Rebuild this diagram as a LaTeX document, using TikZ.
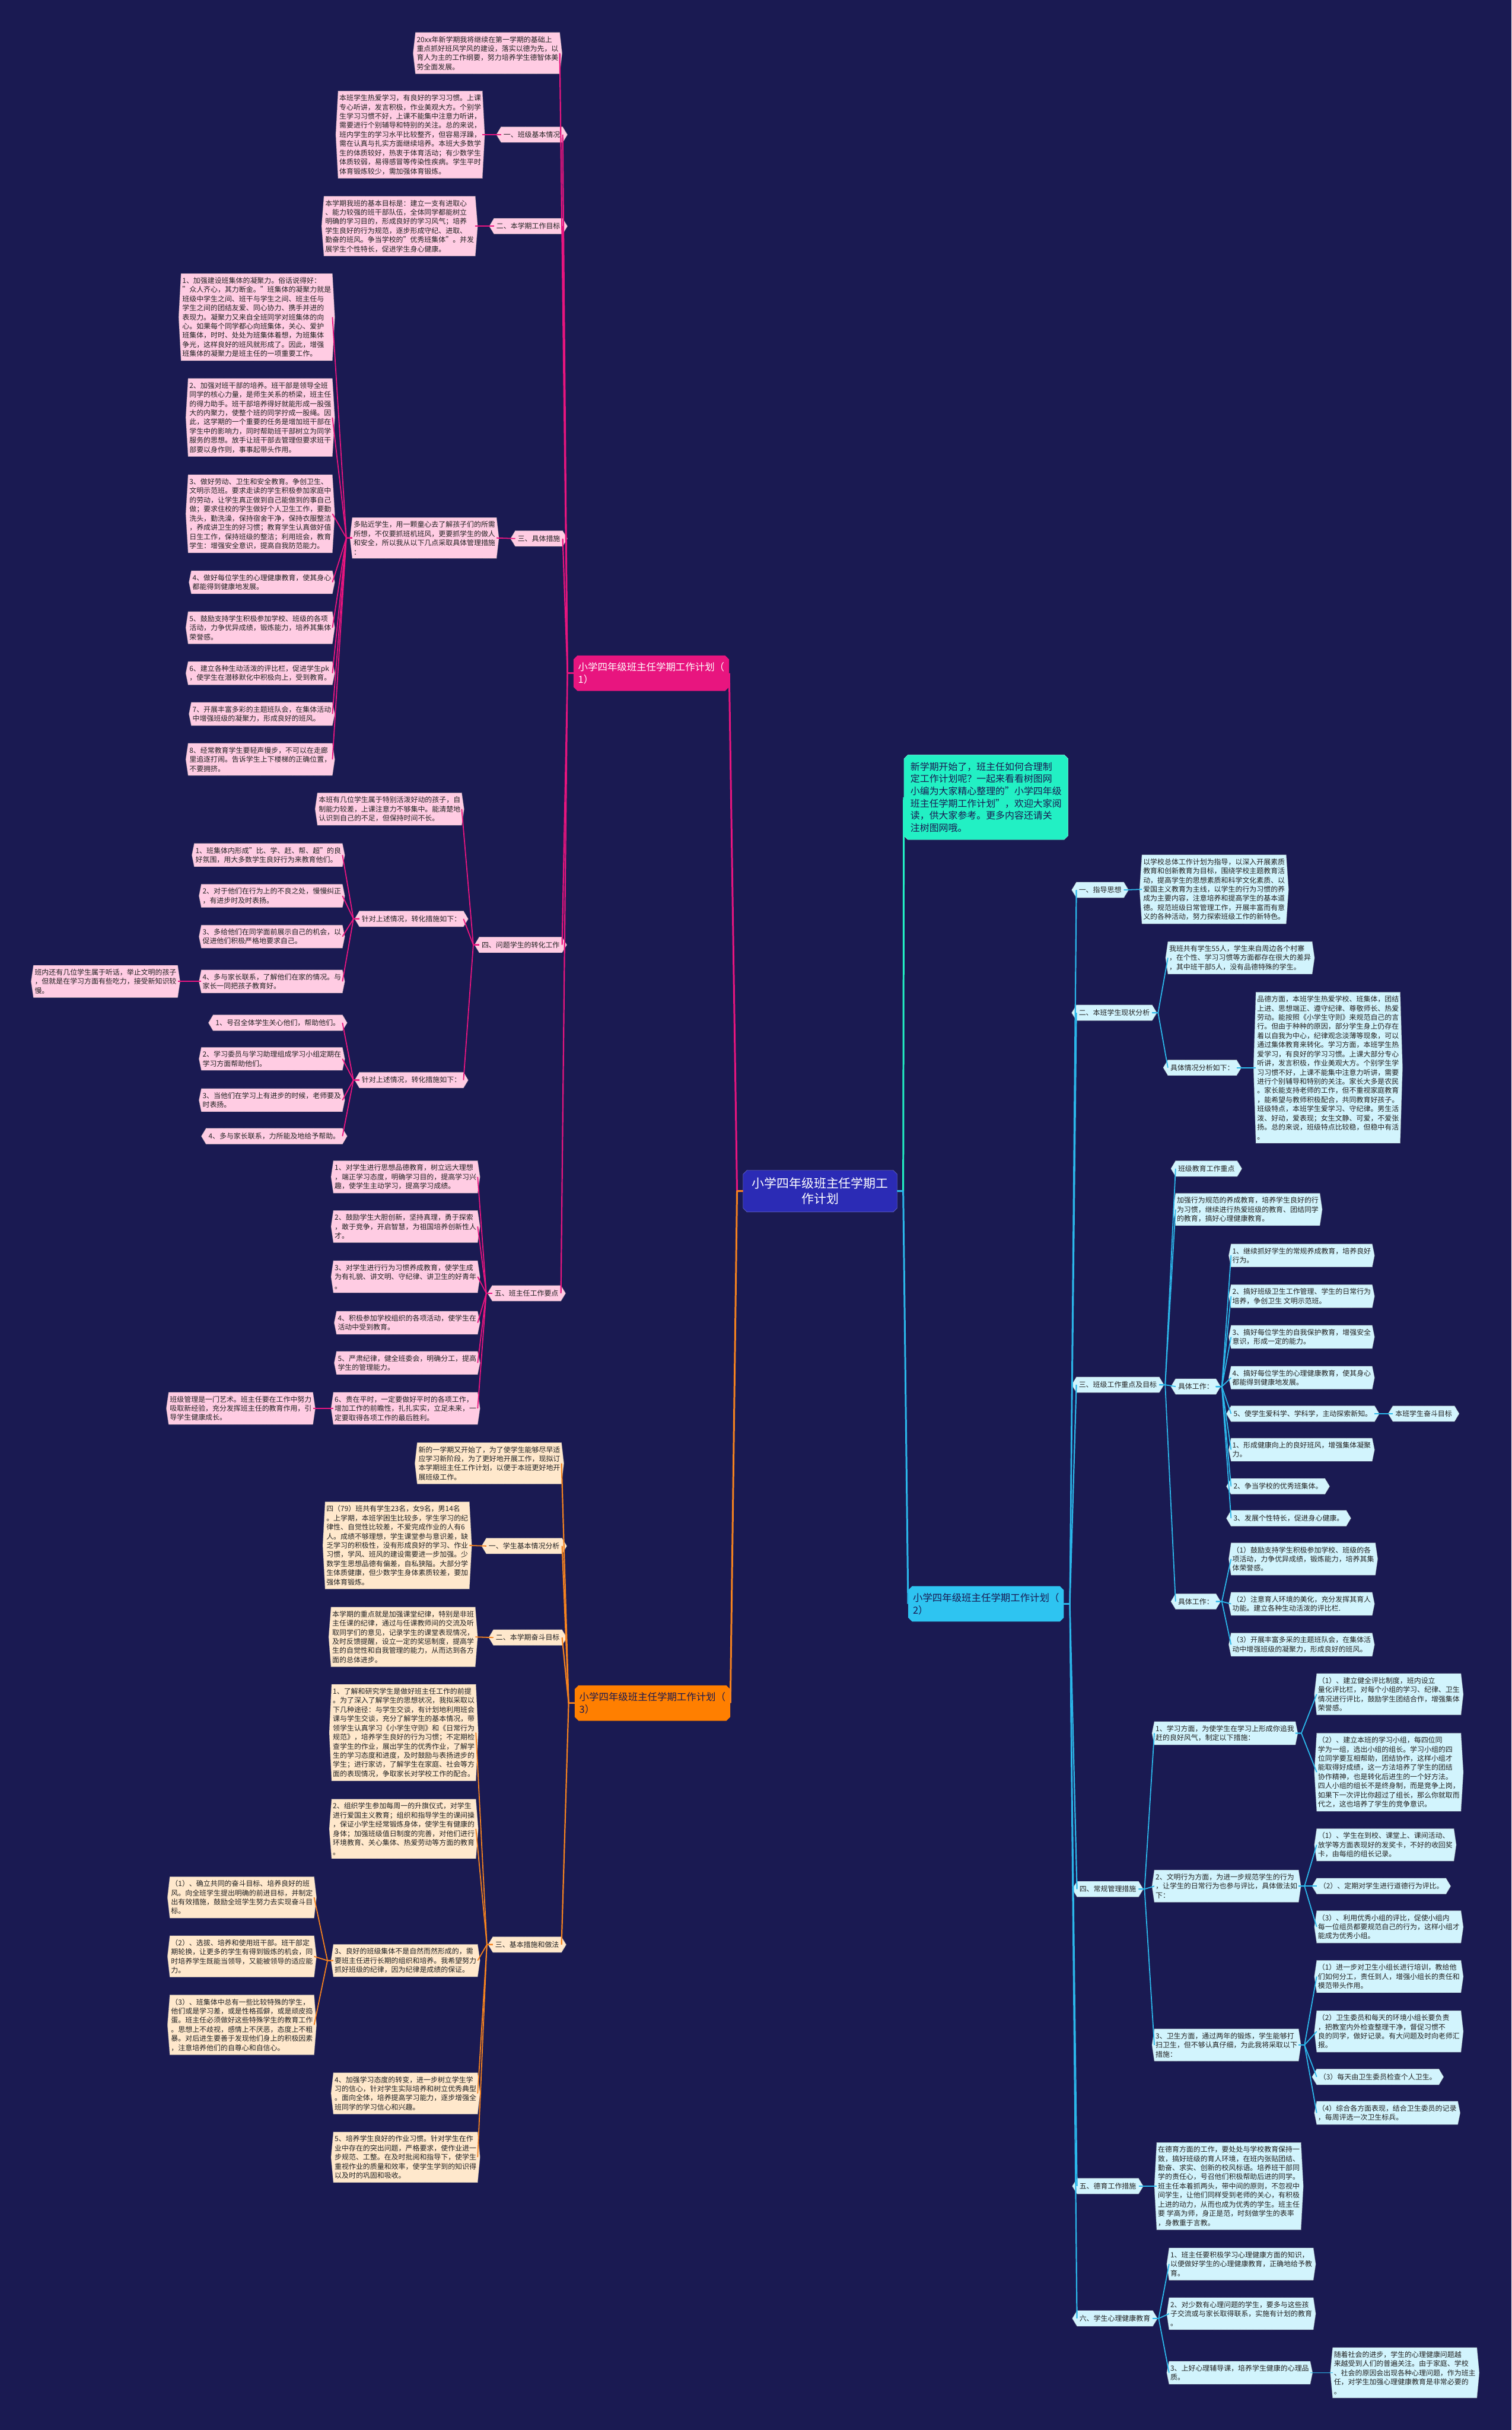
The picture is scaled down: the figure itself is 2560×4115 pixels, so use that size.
\documentclass[tikz,border=0pt]{standalone}
\usepackage{fontspec}
\setmainfont{Noto Sans CJK SC}
\usetikzlibrary{backgrounds, shapes.misc}

\definecolor{navy}{HTML}{1A1A52}
\definecolor{txt}{HTML}{222222}
\definecolor{magline}{HTML}{E8157F}
\definecolor{pinkbox}{HTML}{FFCCE3}
\definecolor{orgline}{HTML}{F5821F}
\definecolor{orghead}{HTML}{FF7F00}
\definecolor{peachbox}{HTML}{FFE8CC}
\definecolor{cyanline}{HTML}{2BB7EA}
\definecolor{cyanhead}{HTML}{2EC4F1}
\definecolor{cyanbox}{HTML}{D2F4FD}
\definecolor{rootblue}{HTML}{2B2BB5}
\definecolor{aqua}{HTML}{22F0C4}

\tikzset{
  box/.style={font=\fontsize{12}{15.5}\selectfont, align=left, text=txt, inner xsep=2pt, inner ysep=6pt},
  tag/.style={font=\fontsize{12}{15.5}\selectfont, text=txt, inner xsep=4pt, inner ysep=7.5pt},
  head/.style={chamfered rectangle, chamfered rectangle xsep=3pt, font=\fontsize{16.5}{21}\selectfont,
    align=left, inner xsep=5pt, inner ysep=8pt},
  hex/.style={fill=#1, draw=black!40, line width=0.6pt, dash pattern=on 1pt off 1pt},
  lk/.style={to path={-- ++(-10,0) -- (\tikztotarget)}},
  rk/.style={to path={-- ++(10,0) -- (\tikztotarget)}},
  wire/.style={draw=#1, line width=1.8pt, line join=round},
}

\begin{document}
\begin{tikzpicture}[x=1pt, y=-1pt]
  \useasboundingbox (0,0) rectangle (2560,4115);

  % root and first level
  \node[head, fill=rootblue, draw=rootblue!55!white, text=white, align=center,
        font=\fontsize{21}{26}\selectfont, inner xsep=12pt, inner ysep=9pt] (N0) at (1389,2017)
       {小学四年级班主任学期工\\作计划};
  \node[head, fill=magline, text=white] (N1) at (1103,1140) {小学四年级班主任学期工作计划（\\1）};
  \node[head, fill=orghead, text=navy] (N3) at (1105,2884) {小学四年级班主任学期工作计划（\\3）};
  \node[head, fill=cyanhead, text=navy] (N2) at (1670,2716) {小学四年级班主任学期工作计划（\\2）};
  \node[head, fill=aqua, draw=aqua!50!white, text=navy, font=\fontsize{16}{20.7}\selectfont,
        inner xsep=8pt, inner ysep=9pt] (I0) at (1670,1350)
       {新学期开始了，班主任如何合理制\\定工作计划呢？一起来看看树图网\\小编为大家精心整理的"小学四年级\\班主任学期工作计划"，欢迎大家阅\\读，供大家参考。更多内容还请关\\注树图网哦。};

  % ---- plan (1)
  \node[box, anchor=east] (A1) at (948,90) {20xx年新学期我将继续在第一学期的基础上\\重点抓好班风学风的建设，落实以德为先，以\\育人为主的工作纲要，努力培养学生德智体美\\劳全面发展。};
  \node[tag, anchor=east] (L1) at (953,228) {一、班级基本情况};
  \node[box, anchor=east] (A2) at (817,228) {本班学生热爱学习，有良好的学习习惯。上课\\专心听讲，发言积极，作业美观大方。个别学\\生学习习惯不好，上课不能集中注意力听讲，\\需要进行个别辅导和特别的关注。总的来说，\\班内学生的学习水平比较整齐，但容易浮躁，\\需在认真与扎实方面继续培养。本班大多数学\\生的体质较好，热衷于体育活动；有少数学生\\体质较弱，易得感冒等传染性疾病。学生平时\\体育锻炼较少，需加强体育锻炼。};
  \node[tag, anchor=east] (L2) at (953,383) {二、本学期工作目标};
  \node[box, anchor=east] (A3) at (805,383) {本学期我班的基本目标是：建立一支有进取心\\、能力较强的班干部队伍，全体同学都能树立\\明确的学习目的，形成良好的学习风气；培养\\学生良好的行为规范，逐步形成守纪、进取、\\勤奋的班风。争当学校的"优秀班集体"。并发\\展学生个性特长，促进学生身心健康。};
  \node[tag, anchor=east] (L3) at (953,912) {三、具体措施};
  \node[box, anchor=east] (B0) at (841,911) {多贴近学生，用一颗童心去了解孩子们的所需\\所想，不仅要抓班机班风，更要抓学生的做人\\和安全，所以我从以下几点采取具体管理措施\\：};
  \node[box, anchor=east] (B1) at (563,537) {1、加强建设班集体的凝聚力。俗话说得好：\\"众人齐心，其力断金。"班集体的凝聚力就是\\班级中学生之间、班干与学生之间、班主任与\\学生之间的团结友爱、同心协力、携手并进的\\表现力。凝聚力又来自全班同学对班集体的向\\心。如果每个同学都心向班集体，关心、爱护\\班集体，时时、处处为班集体着想，为班集体\\争光，这样良好的班风就形成了。因此，增强\\班集体的凝聚力是班主任的一项重要工作。};
  \node[box, anchor=east] (B2) at (563,707) {2、加强对班干部的培养。班干部是领导全班\\同学的核心力量，是师生关系的桥梁，班主任\\的得力助手。班干部培养得好就能形成一股强\\大的内聚力，使整个班的同学拧成一股绳。因\\此，这学期的一个重要的任务是增加班干部在\\学生中的影响力，同时帮助班干部树立为同学\\服务的思想。放手让班干部去管理但要求班干\\部要以身作则，事事起带头作用。};
  \node[box, anchor=east] (B3) at (563,870) {3、做好劳动、卫生和安全教育。争创卫生、\\文明示范班。要求走读的学生积极参加家庭中\\的劳动，让学生真正做到自己能做到的事自己\\做；要求住校的学生做好个人卫生工作，要勤\\洗头，勤洗澡，保持宿舍干净，保持衣服整洁\\，养成讲卫生的好习惯；教育学生认真做好值\\日生工作，保持班级的整洁；利用班会，教育\\学生：增强安全意识，提高自我防范能力。};
  \node[box, anchor=east] (B4) at (563,986) {4、做好每位学生的心理健康教育，使其身心\\都能得到健康地发展。};
  \node[box, anchor=east] (B5) at (563,1063) {5、鼓励支持学生积极参加学校、班级的各项\\活动，力争优异成绩，锻炼能力，培养其集体\\荣誉感。};
  \node[box, anchor=east] (B6) at (563,1140) {6、建立各种生动活泼的评比栏，促进学生pk\\，使学生在潜移默化中积极向上，受到教育。};
  \node[box, anchor=east] (B7) at (563,1209) {7、开展丰富多彩的主题班队会，在集体活动\\中增强班级的凝聚力，形成良好的班风。};
  \node[box, anchor=east] (B8) at (563,1286) {8、经常教育学生要轻声慢步，不可以在走廊\\里追逐打闹。告诉学生上下楼梯的正确位置，\\不要拥挤。};
  \node[tag, anchor=east] (L4) at (952,1600) {四、问题学生的转化工作};
  \node[box, anchor=east] (C0) at (782,1370) {本班有几位学生属于特别活泼好动的孩子，自\\制能力较差，上课注意力不够集中。能清楚地\\认识到自己的不足，但保持时间不长。};
  \node[tag, anchor=east] (C1) at (785,1556) {针对上述情况，转化措施如下：};
  \node[tag, anchor=east] (C2) at (785,1829) {针对上述情况，转化措施如下：};
  \node[box, anchor=east] (D1) at (580,1448) {1、班集体内形成"比、学、赶、帮、超"的良\\好氛围，用大多数学生良好行为来教育他们。};
  \node[box, anchor=east] (D2) at (580,1517) {2、对于他们在行为上的不良之处，慢慢纠正\\，有进步时及时表扬。};
  \node[box, anchor=east] (D3) at (580,1586) {3、多给他们在同学面前展示自己的机会，以\\促进他们积极严格地要求自己。};
  \node[box, anchor=east] (D4) at (580,1662) {4、多与家长联系，了解他们在家的情况。与\\家长一同把孩子教育好。};
  \node[box, anchor=east] (D4a) at (301,1662) {班内还有几位学生属于听话，举止文明的孩子\\，但就是在学习方面有些吃力，接受新知识较\\慢。};
  \node[tag, anchor=east] (E1) at (580,1732) {1、号召全体学生关心他们，帮助他们。};
  \node[box, anchor=east] (E2) at (580,1793) {2、学习委员与学习助理组成学习小组定期在\\学习方面帮助他们。};
  \node[box, anchor=east] (E3) at (580,1863) {3、当他们在学习上有进步的时候，老师要及\\时表扬。};
  \node[tag, anchor=east] (E4) at (580,1924) {4、多与家长联系，力所能及地给予帮助。};
  \node[tag, anchor=east] (L5) at (950,2190) {五、班主任工作要点};
  \node[box, anchor=east] (F1) at (809,1993) {1、对学生进行思想品德教育，树立远大理想\\，端正学习态度，明确学习目的，提高学习兴\\趣，使学生主动学习，提高学习成绩。};
  \node[box, anchor=east] (F2) at (809,2077) {2、鼓励学生大胆创新，坚持真理，勇于探索\\，敢于竞争，开启智慧，为祖国培养创新性人\\才。};
  \node[box, anchor=east] (F3) at (809,2162) {3、对学生进行行为习惯养成教育，使学生成\\为有礼貌、讲文明、守纪律、讲卫生的好青年\\。};
  \node[box, anchor=east] (F4) at (809,2240) {4、积极参加学校组织的各项活动，使学生在\\活动中受到教育。};
  \node[box, anchor=east] (F5) at (809,2308) {5、严肃纪律，健全班委会，明确分工，提高\\学生的管理能力。};
  \node[box, anchor=east] (F6) at (809,2385) {6、贵在平时，一定要做好平时的各项工作，\\增加工作的前瞻性，扎扎实实，立足未来，一\\定要取得各项工作的最后胜利。};
  \node[box, anchor=east] (F6a) at (530,2385) {班级管理是一门艺术。班主任要在工作中努力\\吸取新经验，充分发挥班主任的教育作用，引\\导学生健康成长。};

  % ---- plan (3)
  \node[box, anchor=east] (G0) at (951,2478) {新的一学期又开始了，为了使学生能够尽早适\\应学习新阶段，为了更好地开展工作，现拟订\\本学期班主任工作计划，以便于本班更好地开\\展班级工作。};
  \node[tag, anchor=east] (L6) at (952,2618) {一、学生基本情况分析};
  \node[box, anchor=east] (G1) at (795,2617) {四（79）班共有学生23名，女9名，男14名\\。上学期，本班学困生比较多，学生学习的纪\\律性、自觉性比较差，不爱完成作业的人有6\\人。成绩不够理想，学生课堂参与意识差，缺\\乏学习的积极性，没有形成良好的学习、作业\\习惯，学风、班风的建设需要进一步加强。少\\数学生思想品德有偏差，自私狭隘。大部分学\\生体质健康，但少数学生身体素质较差，要加\\强体育锻炼。};
  \node[tag, anchor=east] (L7) at (952,2773) {二、本学期奋斗目标};
  \node[box, anchor=east] (G2) at (805,2772) {本学期的重点就是加强课堂纪律，特别是非班\\主任课的纪律，通过与任课教师间的交流及听\\取同学们的意见，记录学生的课堂表现情况，\\及时反馈提醒，设立一定的奖惩制度，提高学\\生的自觉性和自我管理的能力，从而达到各方\\面的总体进步。};
  \node[tag, anchor=east] (L8) at (951,3293) {三、基本措施和做法};
  \node[box, anchor=east] (H1) at (806,2934) {1、了解和研究学生是做好班主任工作的前提\\。为了深入了解学生的思想状况，我拟采取以\\下几种途径：与学生交谈，有计划地利用班会\\课与学生交谈，充分了解学生的基本情况，带\\领学生认真学习《小学生守则》和《日常行为\\规范》，培养学生良好的行为习惯；不定期检\\查学生的作业，展出学生的优秀作业，了解学\\生的学习态度和进度，及时鼓励与表扬进步的\\学生；进行家访，了解学生在家庭、社会等方\\面的表现情况，争取家长对学校工作的配合。};
  \node[box, anchor=east] (H2) at (806,3097) {2、组织学生参加每周一的升旗仪式，对学生\\进行爱国主义教育；组织和指导学生的课间操\\，保证小学生经常锻炼身体，使学生有健康的\\身体；加强班级值日制度的完善，对他们进行\\环境教育、关心集体、热爱劳动等方面的教育\\。};
  \node[box, anchor=east] (H3) at (809,3320) {3、良好的班级集体不是自然而然形成的，需\\要班主任进行长期的组织和培养。我希望努力\\抓好班级的纪律，因为纪律是成绩的保证。};
  \node[box, anchor=east] (H3a) at (532,3213) {（1）、确立共同的奋斗目标、培养良好的班\\风。向全班学生提出明确的前进目标，并制定\\出有效措施，鼓励全班学生努力去实现奋斗目\\标。};
  \node[box, anchor=east] (H3b) at (532,3313) {（2）、选拔、培养和使用班干部。班干部定\\期轮换，让更多的学生有得到锻炼的机会，同\\时培养学生既能当领导，又能被领导的适应能\\力。};
  \node[box, anchor=east] (H3c) at (532,3429) {（3）、班集体中总有一些比较特殊的学生，\\他们或是学习差，或是性格孤僻，或是顽皮捣\\蛋。班主任必须做好这些特殊学生的教育工作\\。思想上不歧视，感情上不厌恶，态度上不粗\\暴。对后进生要善于发现他们身上的积极因素\\，注意培养他们的自尊心和自信心。};
  \node[box, anchor=east] (H4) at (809,3545) {4、加强学习态度的转变，进一步树立学生学\\习的信心，针对学生实际培养和树立优秀典型\\。面向全体，培养提高学习能力，逐步增强全\\班同学的学习信心和兴趣。};
  \node[box, anchor=east] (H5) at (809,3653) {5、培养学生良好的作业习惯。针对学生在作\\业中存在的突出问题，严格要求，使作业进一\\步规范、工整。在及时批阅和指导下，使学生\\重视作业的质量和效率，使学生学到的知识得\\以及时的巩固和吸收。};

  % ---- plan (2)
  \node[tag, anchor=west] (R1) at (1823,1507) {一、指导思想};
  \node[box, anchor=west] (R1a) at (1934,1506) {以学校总体工作计划为指导，以深入开展素质\\教育和创新教育为目标，围绕学校主题教育活\\动，提高学生的思想素质和科学文化素质、以\\爱国主义教育为主线，以学生的行为习惯的养\\成为主要内容，注意培养和提高学生的基本道\\德。规范班级日常管理工作，开展丰富而有意\\义的各种活动，努力探索班级工作的新特色。};
  \node[tag, anchor=west] (R2) at (1823,1715) {二、本班学生现状分析};
  \node[box, anchor=west] (R2a) at (1978,1622) {我班共有学生55人，学生来自周边各个村寨\\，在个性、学习习惯等方面都存在很大的差异\\，其中班干部5人，没有品德特殊的学生。};
  \node[tag, anchor=west] (R2b) at (1978,1808) {具体情况分析如下：};
  \node[box, anchor=west] (R2b1) at (2127,1808) {品德方面，本班学生热爱学校、班集体，团结\\上进、思想端正、遵守纪律、尊敬师长、热爱\\劳动。能按照《小学生守则》来规范自己的言\\行。但由于种种的原因，部分学生身上仍存在\\着以自我为中心，纪律观念淡薄等现象，可以\\通过集体教育来转化。学习方面，本班学生热\\爱学习，有良好的学习习惯。上课大部分专心\\听讲，发言积极，作业美观大方。个别学生学\\习习惯不好，上课不能集中注意力听讲，需要\\进行个别辅导和特别的关注。家长大多是农民\\。家长能支持老师的工作，但不重视家庭教育\\，能希望与教师积极配合，共同教育好孩子。\\班级特点，本班学生爱学习、守纪律。男生活\\泼、好动，爱表现；女生文静、可爱，不爱张\\扬。总的来说，班级特点比较稳，但稳中有活\\。};
  \node[tag, anchor=west] (R3) at (1823,2345) {三、班级工作重点及目标};
  \node[tag, anchor=west] (R3a) at (1991,1979) {班级教育工作重点};
  \node[box, anchor=west] (R3b) at (1991,2048) {加强行为规范的养成教育，培养学生良好的行\\为习惯，继续进行热爱班级的教育、团结同学\\的教育，搞好心理健康教育。};
  \node[tag, anchor=west] (R3c) at (1991,2348) {具体工作：};
  \node[tag, anchor=west] (R3d) at (1991,2712) {具体工作：};
  \node[box, anchor=west] (K1) at (2085,2126) {1、继续抓好学生的常规养成教育，培养良好\\行为。};
  \node[box, anchor=west] (K2) at (2085,2195) {2、搞好班级卫生工作管理、学生的日常行为\\培养，争创卫生 文明示范班。};
  \node[box, anchor=west] (K3) at (2085,2264) {3、搞好每位学生的自我保护教育，增强安全\\意识，形成一定的能力。};
  \node[box, anchor=west] (K4) at (2085,2333) {4、搞好每位学生的心理健康教育，使其身心\\都能得到健康地发展。};
  \node[tag, anchor=west] (K5) at (2085,2394) {5、使学生爱科学、学科学，主动探索新知。};
  \node[tag, anchor=west] (K5a) at (2359,2394) {本班学生奋斗目标};
  \node[box, anchor=west] (K6) at (2085,2455) {1、形成健康向上的良好班风，增强集体凝聚\\力。};
  \node[tag, anchor=west] (K7) at (2085,2517) {2、争当学校的优秀班集体。};
  \node[tag, anchor=west] (K8) at (2085,2571) {3、发展个性特长，促进身心健康。};
  \node[box, anchor=west] (K9) at (2085,2640) {（1）鼓励支持学生积极参加学校、班级的各\\项活动，力争优异成绩，锻炼能力，培养其集\\体荣誉感。};
  \node[box, anchor=west] (K10) at (2085,2716) {（2）注意育人环境的美化，充分发挥其育人\\功能。建立各种生动活泼的评比栏.};
  \node[box, anchor=west] (K11) at (2085,2785) {（3）开展丰富多采的主题班队会，在集体活\\动中增强班级的凝聚力，形成良好的班风。};
  \node[tag, anchor=west] (R4) at (1824,3199) {四、常规管理措施};
  \node[box, anchor=west] (M1) at (1955,2935) {1、学习方面，为使学生在学习上形成你追我\\赶的良好风气，制定以下措施：};
  \node[box, anchor=west] (M1a) at (2230,2869) {（1）、建立健全评比制度，班内设立\\量化评比栏，对每个小组的学习、纪律、卫生\\情况进行评比，鼓励学生团结合作，增强集体\\荣誉感。};
  \node[box, anchor=west] (M1b) at (2230,3001) {（2）、建立本班的学习小组，每四位同\\学为一组，选出小组的组长。学习小组的四\\位同学要互相帮助，团结协作，这样小组才\\能取得好成绩，这一方法培养了学生的团结\\协作精神，也是转化后进生的一个好方法。\\四人小组的组长不是终身制，而是竞争上岗，\\如果下一次评比你超过了组长，那么你就取而\\代之，这也培养了学生的竞争意识。};
  \node[box, anchor=west] (M2) at (1955,3194) {2、文明行为方面，为进一步规范学生的行为\\，让学生的日常行为也参与评比，具体做法如\\下：};
  \node[box, anchor=west] (M2a) at (2230,3124) {（1）、学生在到校、课堂上、课间活动、\\放学等方面表现好的发奖卡，不好的收回奖\\卡，由每组的组长记录。};
  \node[tag, anchor=west] (M2b) at (2230,3194) {（2）、定期对学生进行道德行为评比。};
  \node[box, anchor=west] (M2c) at (2230,3263) {（3）、利用优秀小组的评比，促使小组内\\每一位组员都要规范自己的行为，这样小组才\\能成为优秀小组。};
  \node[box, anchor=west] (M3) at (1955,3463) {3、卫生方面，通过两年的锻炼，学生能够打\\扫卫生，但不够认真仔细，为此我将采取以下\\措施：};
  \node[box, anchor=west] (M3a) at (2230,3347) {（1）进一步对卫生小组长进行培训，教给他\\们如何分工，责任到人，增强小组长的责任和\\模范带头作用。};
  \node[box, anchor=west] (M3b) at (2230,3440) {（2）卫生委员和每天的环境小组长要负责\\，把教室内外检查整理干净，督促习惯不\\良的同学，做好记录。有大问题及时向老师汇\\报。};
  \node[tag, anchor=west] (M3c) at (2230,3517) {（3）每天由卫生委员检查个人卫生。};
  \node[box, anchor=west] (M3d) at (2230,3578) {（4）综合各方面表现，结合卫生委员的记录\\，每周评选一次卫生标兵。};
  \node[tag, anchor=west] (R5) at (1824,3702) {五、德育工作措施};
  \node[box, anchor=west] (R5a) at (1959,3702) {在德育方面的工作，要处处与学校教育保持一\\致，搞好班级的育人环境，在班内张贴团结、\\勤奋、求实、创新的校风标语。培养班干部同\\学的责任心，号召他们积极帮助后进的同学。\\班主任本着抓两头，带中间的原则，不忽视中\\间学生，让他们同样受到老师的关心，有积极\\上进的动力，从而也成为优秀的学生。班主任\\要 学高为师，身正是范，时刻做学生的表率\\，身教重于言教。};
  \node[tag, anchor=west] (R6) at (1824,3926) {六、学生心理健康教育};
  \node[box, anchor=west] (P1) at (1980,3834) {1、班主任要积极学习心理健康方面的知识，\\以便做好学生的心理健康教育，正确地给予教\\育。};
  \node[box, anchor=west] (P2) at (1980,3918) {2、对少数有心理问题的学生，要多与这些孩\\子交流或与家长取得联系，实施有计划的教育\\。};
  \node[box, anchor=west] (P3) at (1980,4018) {3、上好心理辅导课，培养学生健康的心理品\\质。};
  \node[box, anchor=west] (P3a) at (2257,4018) {随着社会的进步，学生的心理健康问题越\\来越受到人们的普遍关注。由于家庭、学校\\、社会的原因会出现各种心理问题，作为班主\\任，对学生加强心理健康教育是非常必要的\\。};

  % connectors
  \draw[wire=magline, line width=3pt] (N0.west) to[lk] (N1.east);
  \draw[wire=orgline, line width=3pt] (N0.west) to[lk] (N3.east);
  \draw[wire=aqua, line width=3pt] (N0.east) to[rk] (I0.west);
  \draw[wire=cyanline, line width=3pt] (N0.east) to[rk] (N2.west);

  \foreach \c in {A1,L1,L2,L3,L4,L5} \draw[wire=magline, line width=2.2pt] (N1.west) to[lk] (\c.east);
  \draw[wire=magline] (L1.west) -- (A2.east);
  \draw[wire=magline] (L2.west) -- (A3.east);
  \draw[wire=magline] (L3.west) -- (B0.east);
  \foreach \i in {1,...,8} \draw[wire=magline] (B0.west) to[lk] (B\i.east);
  \foreach \c in {C0,C1,C2} \draw[wire=magline] (L4.west) to[lk] (\c.east);
  \foreach \i in {1,...,4} \draw[wire=magline] (C1.west) to[lk] (D\i.east);
  \draw[wire=magline] (D4.west) -- (D4a.east);
  \foreach \i in {1,...,4} \draw[wire=magline] (C2.west) to[lk] (E\i.east);
  \foreach \i in {1,...,6} \draw[wire=magline] (L5.west) to[lk] (F\i.east);
  \draw[wire=magline] (F6.west) -- (F6a.east);

  \foreach \c in {G0,L6,L7,L8} \draw[wire=orgline, line width=2.2pt] (N3.west) to[lk] (\c.east);
  \draw[wire=orgline] (L6.west) -- (G1.east);
  \draw[wire=orgline] (L7.west) -- (G2.east);
  \foreach \i in {1,...,5} \draw[wire=orgline] (L8.west) to[lk] (H\i.east);
  \foreach \c in {H3a,H3b,H3c} \draw[wire=orgline] (H3.west) to[lk] (\c.east);

  \foreach \i in {1,...,6} \draw[wire=cyanline, line width=2.2pt] (N2.east) to[rk] (R\i.west);
  \draw[wire=cyanline] (R1.east) -- (R1a.west);
  \foreach \c in {R2a,R2b} \draw[wire=cyanline] (R2.east) to[rk] (\c.west);
  \draw[wire=cyanline] (R2b.east) -- (R2b1.west);
  \foreach \c in {R3a,R3b,R3c,R3d} \draw[wire=cyanline] (R3.east) to[rk] (\c.west);
  \foreach \i in {1,...,8} \draw[wire=cyanline] (R3c.east) to[rk] (K\i.west);
  \draw[wire=cyanline] (K5.east) -- (K5a.west);
  \foreach \i in {9,10,11} \draw[wire=cyanline] (R3d.east) to[rk] (K\i.west);
  \foreach \i in {1,2,3} \draw[wire=cyanline] (R4.east) to[rk] (M\i.west);
  \foreach \c in {M1a,M1b} \draw[wire=cyanline] (M1.east) to[rk] (\c.west);
  \foreach \c in {M2a,M2b,M2c} \draw[wire=cyanline] (M2.east) to[rk] (\c.west);
  \foreach \c in {M3a,M3b,M3c,M3d} \draw[wire=cyanline] (M3.east) to[rk] (\c.west);
  \draw[wire=cyanline] (R5.east) -- (R5a.west);
  \foreach \i in {1,2,3} \draw[wire=cyanline] (R6.east) to[rk] (P\i.west);
  \draw[wire=cyanline] (P3.east) -- (P3a.west);

  % canvas and box outlines
  \begin{scope}[on background layer]
    \fill[navy] (0,0) rectangle (2560,4115);
    \foreach \nm in {A1,A2,A3,B0,B1,B2,B3,B4,B5,B6,B7,B8,C0,D1,D2,D3,D4,D4a,E2,E3,F1,F2,F3,F4,F5,F6,F6a}
      \path[hex=pinkbox] (\nm.north west) -- (\nm.north east) -- ([xshift=4pt]\nm.east)
        -- (\nm.south east) -- (\nm.south west) -- ([xshift=-4pt]\nm.west) -- cycle;
    \foreach \nm in {L1,L2,L3,L4,L5,C1,C2,E1,E4}
      \path[hex=pinkbox] (\nm.north west) -- (\nm.north east) -- ([xshift=8pt]\nm.east)
        -- (\nm.south east) -- (\nm.south west) -- ([xshift=-8pt]\nm.west) -- cycle;
    \foreach \nm in {G0,G1,G2,H1,H2,H3,H3a,H3b,H3c,H4,H5}
      \path[hex=peachbox] (\nm.north west) -- (\nm.north east) -- ([xshift=4pt]\nm.east)
        -- (\nm.south east) -- (\nm.south west) -- ([xshift=-4pt]\nm.west) -- cycle;
    \foreach \nm in {L6,L7,L8}
      \path[hex=peachbox] (\nm.north west) -- (\nm.north east) -- ([xshift=8pt]\nm.east)
        -- (\nm.south east) -- (\nm.south west) -- ([xshift=-8pt]\nm.west) -- cycle;
    \foreach \nm in {R1a,R2a,R2b1,R3b,K1,K2,K3,K4,K6,K9,K10,K11,M1,M1a,M1b,M2,M2a,M2c,M3,M3a,M3b,M3d,R5a,P1,P2,P3,P3a}
      \path[hex=cyanbox] (\nm.north west) -- (\nm.north east) -- ([xshift=4pt]\nm.east)
        -- (\nm.south east) -- (\nm.south west) -- ([xshift=-4pt]\nm.west) -- cycle;
    \foreach \nm in {R1,R2,R2b,R3,R3a,R3c,R3d,K5,K5a,K7,K8,R4,M2b,M3c,R5,R6}
      \path[hex=cyanbox] (\nm.north west) -- (\nm.north east) -- ([xshift=8pt]\nm.east)
        -- (\nm.south east) -- (\nm.south west) -- ([xshift=-8pt]\nm.west) -- cycle;
  \end{scope}
\end{tikzpicture}
\end{document}
